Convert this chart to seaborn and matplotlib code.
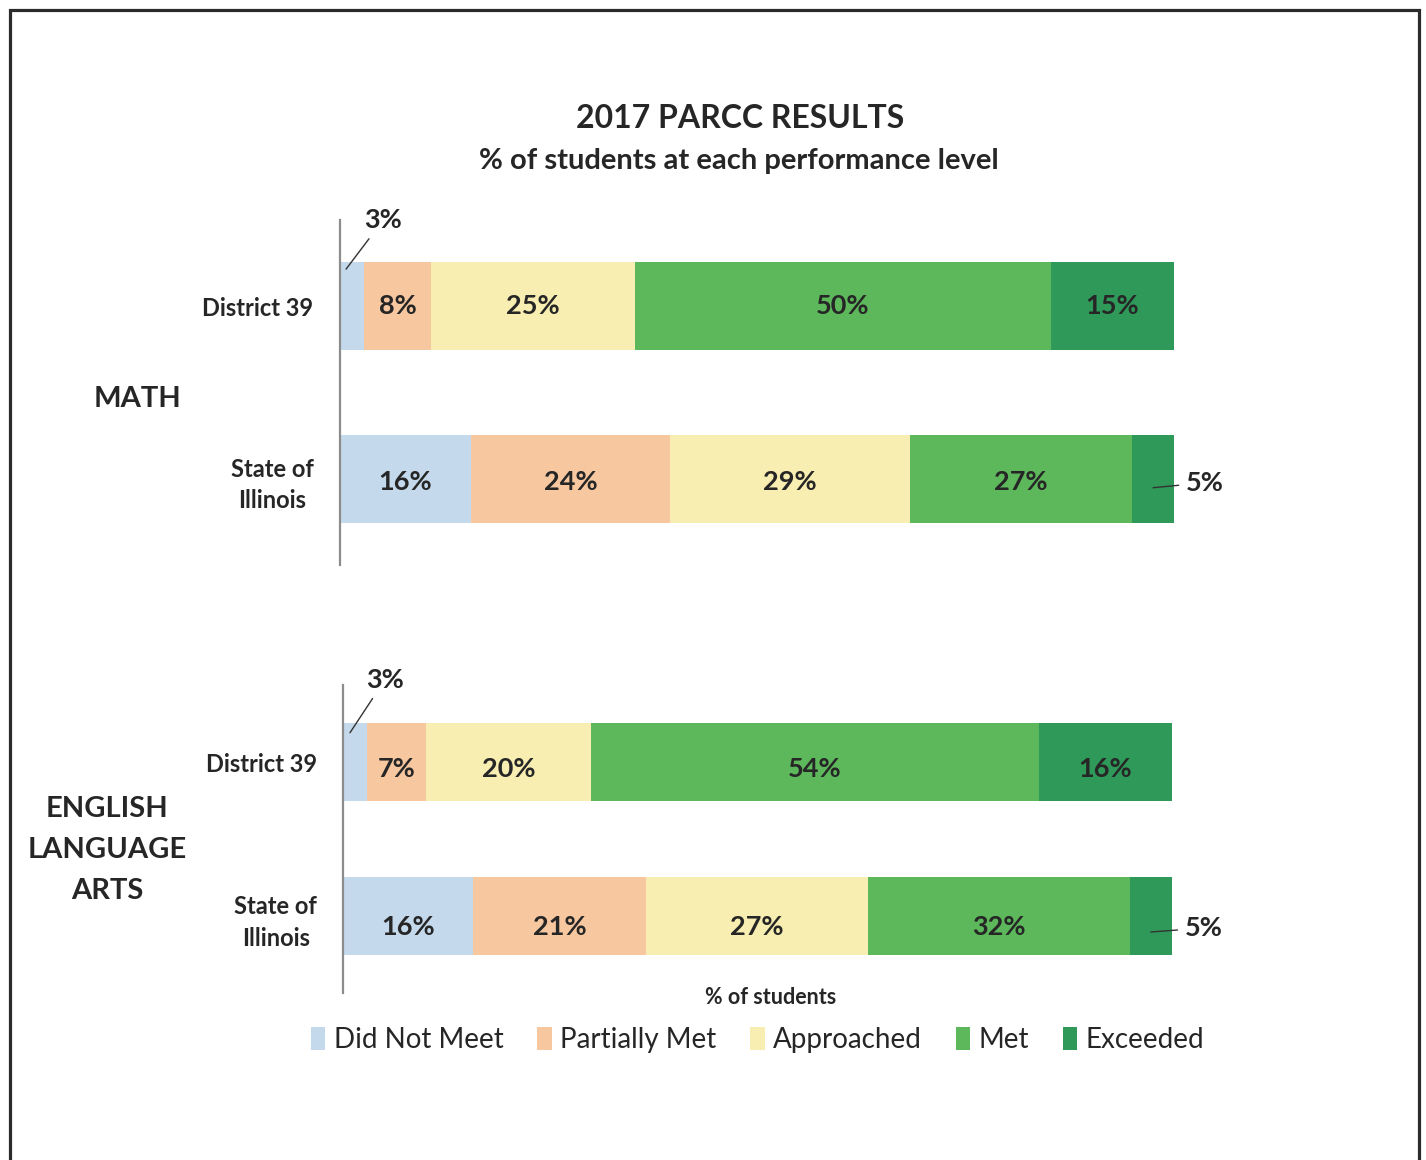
import matplotlib
matplotlib.use("Agg")
import matplotlib.pyplot as plt
from matplotlib.patches import Rectangle, Patch
import seaborn as sns
import pandas as pd
import numpy as np

# ---------------- data ----------------
levels = ["Did Not Meet", "Partially Met", "Approached", "Met", "Exceeded"]
groups = ["District 39", "State of\nIllinois"]
level_colors = ["#C5D9EC", "#F7C7A0", "#F8EEB1", "#5DB85C", "#2E9958"]

math_d39 = [2.9, 8.0, 24.5, 49.8, 14.8]
math_state = [15.7, 23.9, 28.7, 26.7, 5.0]
ela_d39 = [2.9, 7.1, 19.9, 54.0, 16.1]
ela_state = [15.7, 20.9, 26.7, 31.6, 5.1]

math_d39_labels = ["3%", "8%", "25%", "50%", "15%"]
math_state_labels = ["16%", "24%", "29%", "27%", "5%"]
ela_d39_labels = ["3%", "7%", "20%", "54%", "16%"]
ela_state_labels = ["16%", "21%", "27%", "32%", "5%"]

subjects = ["MATH", "ENGLISH\nLANGUAGE\nARTS"]
title = "2017 PARCC RESULTS"
subtitle = "% of students at each performance level"
xlabel = "% of students"

# ---------------- style ----------------
sns.set_theme(style="white")
plt.rcParams["font.family"] = ["Lato", "DejaVu Sans"]
TXT = "#262626"

fig = plt.figure(figsize=(14.26, 11.6), dpi=100)
W, H = 1426, 1160


def fx(px):
    return px / W


def fy(py):
    return 1 - py / H


ax_math = fig.add_axes([fx(340), fy(565), fx(1174) - fx(340), fy(220) - fy(565)])
ax_ela = fig.add_axes([fx(343), fy(993), fx(1172) - fx(343), fy(685) - fy(993)])


def draw_panel(ax, rows, labels, small_offsets, pad, row_dy):
    recs = []
    for g, vals in zip(groups, rows):
        cum = np.cumsum(vals)
        for lvl, c in zip(levels, cum):
            recs.append({"group": g, "level": lvl, "cum": c})
    df = pd.DataFrame(recs)
    # cumulative trick: draw from the longest (last level) to shortest
    for i in range(len(levels) - 1, -1, -1):
        sub = df[df["level"] == levels[i]]
        sns.barplot(data=sub, x="cum", y="group", order=groups, orient="h",
                    color=level_colors[i], saturation=1, width=0.51,
                    errorbar=None, ax=ax, linewidth=0)
    ax.set_xlim(0, 100)
    ax.set_ylim(1.5, -0.5)
    ax.set_xlabel("")
    ax.set_ylabel("")
    ax.set_xticks([])
    for s in ["top", "right", "bottom"]:
        ax.spines[s].set_visible(False)
    ax.spines["left"].set_color("#8c8c8c")
    ax.spines["left"].set_linewidth(1.6)
    ax.tick_params(axis="y", length=0, pad=pad, labelsize=17, labelcolor=TXT)
    for lbl in ax.get_yticklabels():
        lbl.set_fontweight("bold")
        lbl.set_multialignment("center")
        lbl.set_linespacing(1.45)

    for gi, (vals, labs) in enumerate(zip(rows, labels)):
        starts = np.concatenate([[0], np.cumsum(vals)[:-1]])
        for li, (v, s0, lab) in enumerate(zip(vals, starts, labs)):
            key = (gi, li)
            if key in small_offsets:
                (dx, dy, ha, yoff, xfrac) = small_offsets[key]
                ax.annotate(lab, xy=(s0 + v * xfrac, gi + yoff),
                            xytext=(dx, dy), textcoords="offset pixels",
                            ha=ha, va="center", fontsize=19.5,
                            fontweight="bold", color=TXT,
                            arrowprops=dict(arrowstyle="-", color="#333333",
                                            lw=1.0, shrinkA=3, shrinkB=0))
            else:
                ax.text(s0 + v / 2, gi + row_dy[gi], lab, ha="center",
                        va="center", fontsize=19.5, fontweight="bold",
                        color=TXT)


draw_panel(ax_math, [math_d39, math_state],
           [math_d39_labels, math_state_labels],
           {(0, 0): (37, 49, "center", -0.215, 0.25),
            (1, 4): (33, 5, "left", 0.052, 0.5)}, pad=19, row_dy=[0.0, 0.017])
draw_panel(ax_ela, [ela_d39, ela_state],
           [ela_d39_labels, ela_state_labels],
           {(0, 0): (35, 53, "center", -0.19, 0.29),
            (1, 4): (34, 4, "left", 0.104, 0.5)}, pad=18.5,
           row_dy=[0.045, 0.072])

# subject labels
fig.text(fx(137), fy(399), subjects[0], ha="center", va="center",
         fontsize=21, fontweight="bold", color=TXT)
fig.text(fx(107), fy(850), subjects[1], ha="center", va="center",
         fontsize=21, fontweight="bold", color=TXT, linespacing=1.7)

# titles
fig.text(fx(740), fy(118), title, ha="center", va="center",
         fontsize=23, fontweight="bold", color=TXT)
fig.text(fx(739), fy(161), subtitle, ha="center", va="center",
         fontsize=21, fontweight="bold", color=TXT)
fig.text(fx(771), fy(997), xlabel, ha="center", va="center",
         fontsize=15.5, fontweight="bold", color=TXT)

# legend
handles = [Patch(facecolor=c, edgecolor="none", label=l)
           for c, l in zip(level_colors, levels)]
fig.legend(handles=handles, loc="center", bbox_to_anchor=(fx(757.5), fy(1040)),
           ncol=5, frameon=False, fontsize=20, handlelength=0.52,
           handleheight=0.9, handletextpad=0.3, columnspacing=1.22,
           labelcolor=TXT)

# outer border
fig.patches.append(Rectangle((fx(9.5), -0.1), fx(1419) - fx(9.5), fy(9.5) + 0.1,
                             transform=fig.transFigure, fill=False,
                             edgecolor="#2b2b2b", linewidth=2.3, clip_on=False))

fig.savefig("out.png", dpi=100)
